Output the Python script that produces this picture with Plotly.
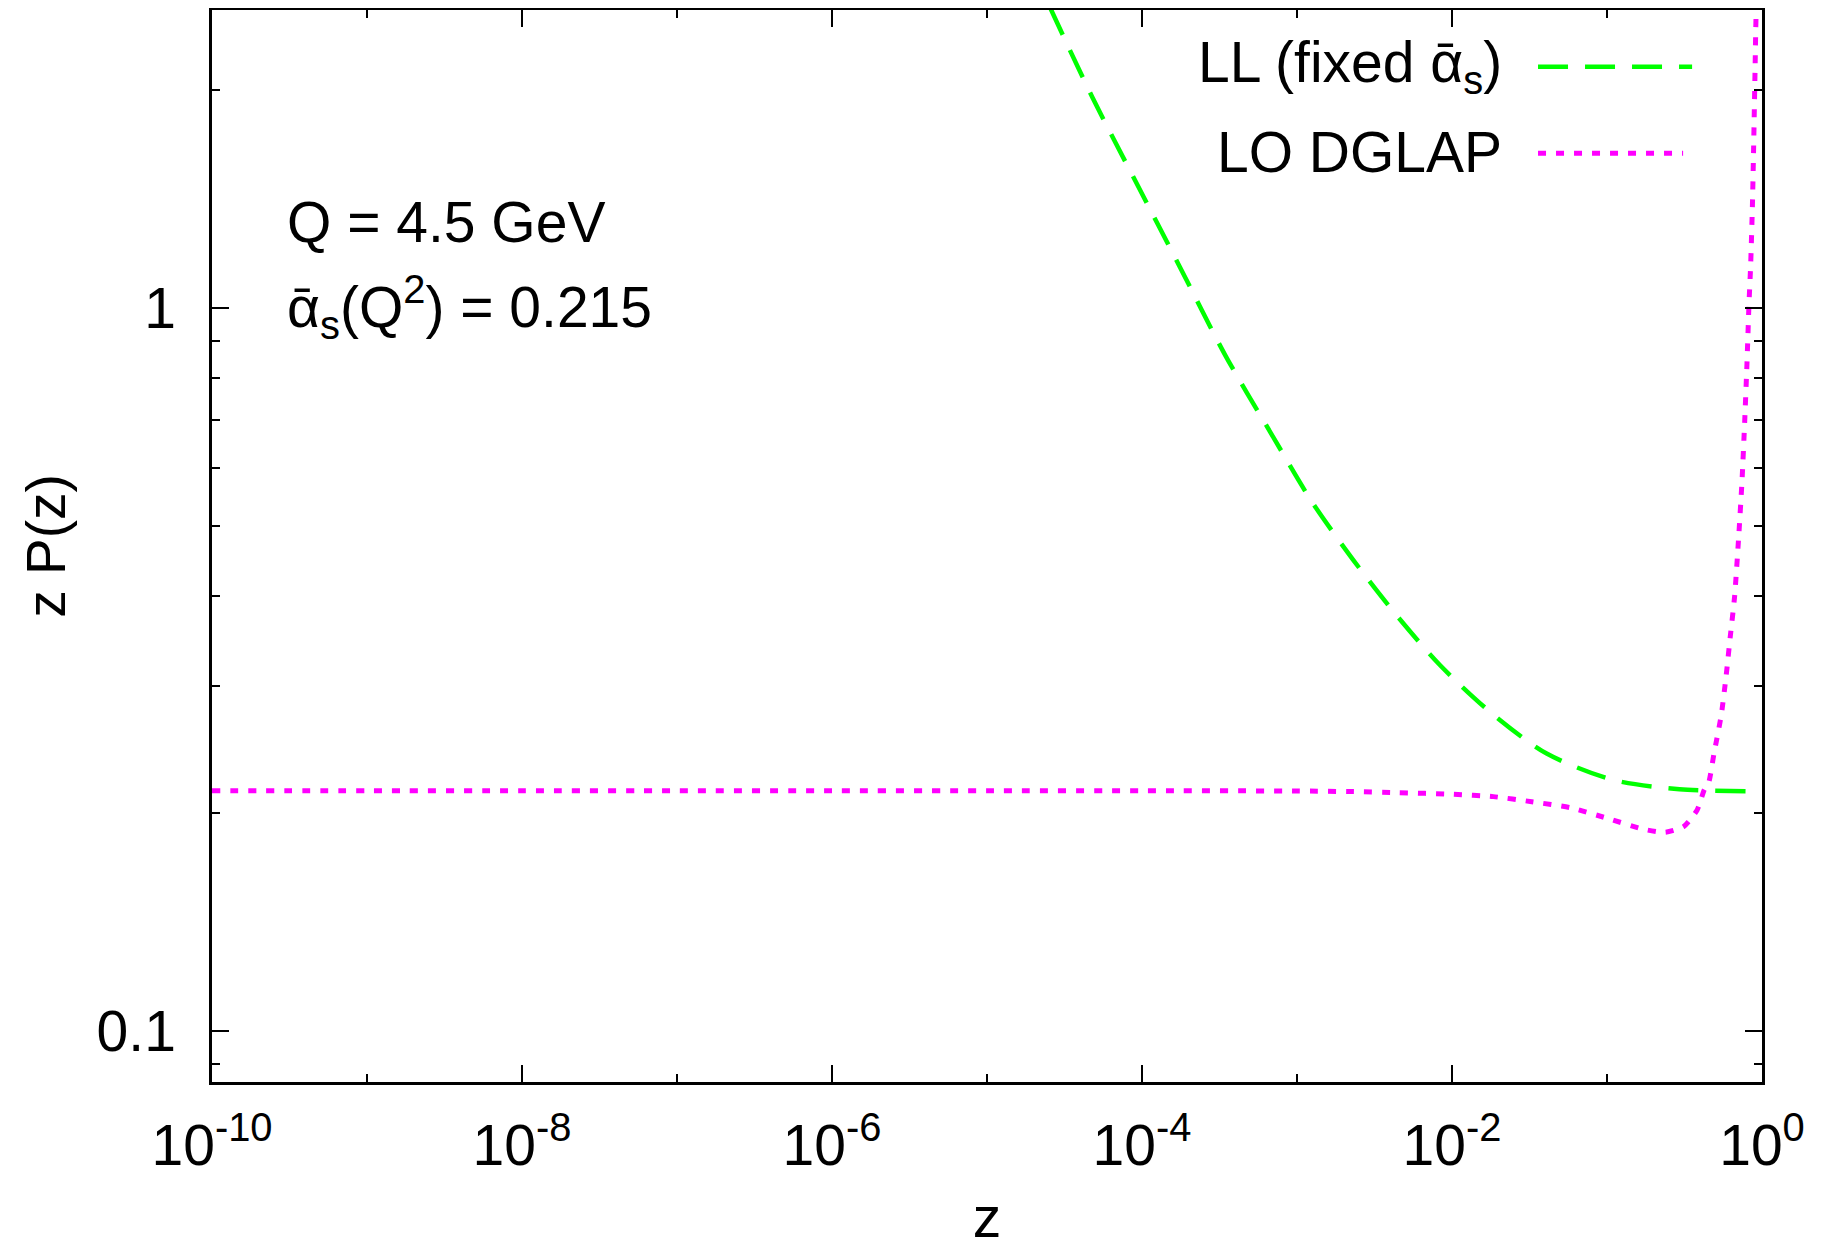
import plotly.graph_objects as go

# ---------------- data ----------------
# LL (fixed alpha_s) curve
ll_z = [2.55e-5, 4.80e-5, 9.12e-5, 1.738e-4, 3.44e-4, 6.81e-4, 1.25e-3, 2.29e-3,
        4.20e-3, 8.32e-3, 1.77e-2, 4.08e-2, 0.1096, 0.2938, 0.916, 1.0]
ll_zp = [2.60, 1.950, 1.493, 1.143, 0.860, 0.670, 0.539, 0.449,
         0.380, 0.321, 0.276, 0.242, 0.2225, 0.216, 0.2145, 0.2145]

# LO DGLAP curve
dglap_z = [1e-10, 1e-9, 1e-8, 1e-7, 1e-6, 1e-5, 1e-4, 1e-3,
           2.31e-3, 4.41e-3, 1.02e-2, 1.85e-2, 3.27e-2, 5.79e-2, 0.100, 0.172,
           0.238, 0.312, 0.381, 0.424, 0.452, 0.490, 0.546, 0.587, 0.624,
           0.665, 0.706, 0.743, 0.773, 0.800, 0.824, 0.845, 0.867, 0.883,
           0.902, 0.918, 0.925]
dglap_zp = [0.215, 0.215, 0.215, 0.215, 0.215, 0.215, 0.215, 0.2148,
            0.2144, 0.2137, 0.2126, 0.2110, 0.2076, 0.2037, 0.1970, 0.1902,
            0.1884, 0.1918, 0.2021, 0.2156, 0.2202, 0.242, 0.2735, 0.310, 0.351,
            0.398, 0.479, 0.576, 0.695, 0.838, 1.011, 1.146, 1.380, 1.663,
            2.132, 2.569, 2.60]

x_tickvals = [1e-10, 1e-8, 1e-6, 1e-4, 1e-2, 1]
x_ticktext = ["10<sup>-10</sup>", "10<sup>-8</sup>", "10<sup>-6</sup>",
              "10<sup>-4</sup>", "10<sup>-2</sup>", "10<sup>0</sup>"]
x_minor = [1e-9, 1e-7, 1e-5, 1e-3, 1e-1]
y_tickvals = [0.1, 1]
y_ticktext = ["0.1", "1"]
y_minor = [0.09, 0.2, 0.3, 0.4, 0.5, 0.6, 0.7, 0.8, 0.9, 2]

legend_labels = ["LL (fixed ᾱ<sub>s</sub>)", "LO DGLAP"]
info_lines = ["Q = 4.5 GeV", "ᾱ<sub>s</sub>(Q<sup>2</sup>) = 0.215"]

GREEN = "#00FF00"
MAGENTA = "#FF00FF"
FONT = "Liberation Sans, Arial, Helvetica, sans-serif"
FS = 57

fig = go.Figure()
fig.add_trace(go.Scatter(x=ll_z, y=ll_zp, mode="lines", showlegend=False,
                         line=dict(color=GREEN, width=4.5, dash="30px,17px",
                                   shape="spline", smoothing=0.8)))
fig.add_trace(go.Scatter(x=dglap_z, y=dglap_zp, mode="lines", showlegend=False,
                         line=dict(color=MAGENTA, width=5, dash="8px,10px",
                                   shape="spline", smoothing=0.6)))

axis_common = dict(type="log", showline=True, linecolor="black", linewidth=2.5,
                   mirror="allticks", ticks="inside", ticklen=17, tickwidth=2,
                   tickcolor="black", showgrid=False, zeroline=False,
                   automargin=False,
                   tickfont=dict(family=FONT, size=FS, color="black"))

fig.update_xaxes(range=[-10, 0], tickmode="array", tickvals=x_tickvals,
                 ticktext=x_ticktext, ticklabelstandoff=12,
                 minor=dict(tickmode="array", tickvals=x_minor, ticks="inside",
                            ticklen=8, tickwidth=2, tickcolor="black", showgrid=False),
                 title=dict(text="z", font=dict(family=FONT, size=FS, color="black"),
                            standoff=53),
                 **axis_common)
fig.update_yaxes(range=[-1.0701, 0.4114], tickmode="array", tickvals=y_tickvals,
                 ticktext=y_ticktext, ticklabelstandoff=22,
                 minor=dict(tickmode="array", tickvals=y_minor, ticks="inside",
                            ticklen=8, tickwidth=2, tickcolor="black", showgrid=False),
                 title=dict(text="z P(z)", font=dict(family=FONT, size=55, color="black"),
                            standoff=14),
                 **axis_common)

# manual gnuplot-style legend (text right, sample on the right)
fig.add_shape(type="line", xref="paper", yref="paper", x0=0.8555, x1=0.9549,
              y0=0.9471, y1=0.9471, line=dict(color=GREEN, width=4.5, dash="30px,17px"))
fig.add_shape(type="line", xref="paper", yref="paper", x0=0.8555, x1=0.9491,
              y0=0.8663, y1=0.8663, line=dict(color=MAGENTA, width=5, dash="8px,10px"))
for lab, yp in zip(legend_labels, [0.9478, 0.8675]):
    fig.add_annotation(text=lab, xref="paper", yref="paper", x=0.8335, y=yp,
                       xanchor="right", yanchor="middle", showarrow=False,
                       font=dict(family=FONT, size=FS, color="black"))

for txt, yp in zip(info_lines, [0.8018, 0.7226]):
    fig.add_annotation(text=txt, xref="paper", yref="paper", x=0.0468, y=yp,
                       xanchor="left", yanchor="middle", showarrow=False,
                       font=dict(family=FONT, size=FS, color="black"))

fig.update_layout(width=1813, height=1241, plot_bgcolor="white", paper_bgcolor="white",
                  margin=dict(l=204, r=59, t=2, b=167), showlegend=False)

fig.write_html("out.html")
